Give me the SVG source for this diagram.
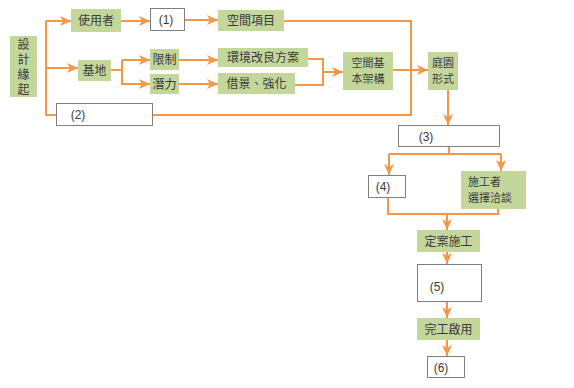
<svg xmlns="http://www.w3.org/2000/svg" width="574" height="388" viewBox="0 0 574 388">
<defs>
<marker id="ah" markerUnits="userSpaceOnUse" markerWidth="12" markerHeight="12" viewBox="0 0 12 12" refX="11" refY="6" orient="auto">
<path d="M0,1 L11,6 L0,11 L3,6 Z" fill="#F79646"/>
</marker>
<style>
.g{fill:#C4D79B;stroke:none}
.w{fill:#fff;stroke:#7F7F7F;stroke-width:1}
.t{font-family:"Noto Sans CJK TC","Noto Sans CJK SC",sans-serif;font-size:12px;fill:#3A3A3A;text-anchor:middle}
.t2{font-family:"Noto Sans CJK TC","Noto Sans CJK SC",sans-serif;font-size:11px;fill:#3A3A3A;text-anchor:middle}
.tl{font-family:"Liberation Sans",Arial,sans-serif;font-size:12px;fill:#3A3A3A;text-anchor:middle}
.c{fill:none;stroke:#F79646;stroke-width:2}
</style>
</defs>
<rect width="574" height="388" fill="#fff"/>
<g id="connectors">
<path class="c" d="M46,21 V115 H56"/>
<path class="c" d="M46,21 H71" marker-end="url(#ah)"/>
<path class="c" d="M46,68 H78" marker-end="url(#ah)"/>
<path class="c" d="M121,21 H150" marker-end="url(#ah)"/>
<path class="c" d="M185,20 H218" marker-end="url(#ah)"/>
<path class="c" d="M284,21 H411 V115 H153"/>
<path class="c" d="M111,70 H122 M122,60 V85"/>
<path class="c" d="M122,60 H150" marker-end="url(#ah)"/>
<path class="c" d="M122,84 H150" marker-end="url(#ah)"/>
<path class="c" d="M179,60 H218" marker-end="url(#ah)"/>
<path class="c" d="M179,84 H218" marker-end="url(#ah)"/>
<path class="c" d="M308,59 H323 V85 H295"/>
<path class="c" d="M323,72 H343" marker-end="url(#ah)"/>
<path class="c" d="M393,70 H428" marker-end="url(#ah)"/>
<path class="c" d="M448,90 V125" marker-end="url(#ah)"/>
<path class="c" d="M449,146 V154 M389,154 H501"/>
<path class="c" d="M389,154 V175" marker-end="url(#ah)"/>
<path class="c" d="M501,154 V171" marker-end="url(#ah)"/>
<path class="c" d="M388,197 V214 H498 V209"/>
<path class="c" d="M447,214 V230" marker-end="url(#ah)"/>
<path class="c" d="M447,252 V264" marker-end="url(#ah)"/>
<path class="c" d="M447,302 V318" marker-end="url(#ah)"/>
<path class="c" d="M447,340 V356" marker-end="url(#ah)"/>
</g>
<g id="origin"><rect class="g" x="10" y="36" width="27" height="61"/>
<text class="t" x="23.5" y="38.5" writing-mode="tb" style="text-anchor:start;letter-spacing:3px">設計緣起</text></g>
<g id="user"><rect class="g" x="71" y="9" width="50" height="23"/><text class="t" x="96" y="25">使用者</text></g>
<g id="n1"><rect class="w" x="150.5" y="8.5" width="34" height="22"/><text class="tl" x="166" y="24">(1)</text></g>
<g id="space-items"><rect class="g" x="218" y="10" width="66" height="21"/><text class="t" x="251" y="25">空間項目</text></g>
<g id="site"><rect class="g" x="78" y="60" width="33" height="21"/><text class="t" x="94.5" y="75">基地</text></g>
<g id="limit"><rect class="g" x="150" y="49" width="29" height="21"/><text class="t" x="164.5" y="64">限制</text></g>
<g id="potential"><rect class="g" x="150" y="74" width="29" height="20"/><text class="t" x="164.5" y="89">潛力</text></g>
<g id="improve"><rect class="g" x="218" y="48" width="90" height="19"/><text class="t" x="263" y="62">環境改良方案</text></g>
<g id="borrow"><rect class="g" x="218" y="73" width="77" height="21"/><text class="t" x="256.5" y="88">借景、強化</text></g>
<g id="framework"><rect class="g" x="343" y="52" width="50" height="38"/><text class="t2" x="368" y="67">空間基</text><text class="t2" x="368" y="83">本架構</text></g>
<g id="garden"><rect class="g" x="428" y="52" width="30" height="38"/><text class="t2" x="443" y="67">庭園</text><text class="t2" x="443" y="83">形式</text></g>
<g id="n2"><rect class="w" x="56.5" y="103.5" width="96" height="22"/><text class="tl" x="78" y="119">(2)</text></g>
<g id="n3"><rect class="w" x="398.5" y="125.5" width="101" height="21"/><text class="tl" x="426" y="141">(3)</text></g>
<g id="n4"><rect class="w" x="368.5" y="175.5" width="37" height="22"/><text class="tl" x="383" y="191">(4)</text></g>
<g id="contractor"><rect class="g" x="461" y="171" width="65" height="38"/><text class="t2" x="468" y="186" style="text-anchor:start">施工者</text><text class="t2" x="468" y="202" style="text-anchor:start">選擇洽談</text></g>
<g id="finalize"><rect class="g" x="417" y="230" width="63" height="22"/><text class="t" x="448.5" y="246">定案施工</text></g>
<g id="n5"><rect class="w" x="417.5" y="264.5" width="64" height="37"/><text class="tl" x="437" y="291">(5)</text></g>
<g id="complete"><rect class="g" x="417" y="318" width="63" height="22"/><text class="t" x="448.5" y="334">完工啟用</text></g>
<g id="n6"><rect class="w" x="427.5" y="356.5" width="37" height="21"/><text class="tl" x="441" y="372">(6)</text></g>
</svg>
